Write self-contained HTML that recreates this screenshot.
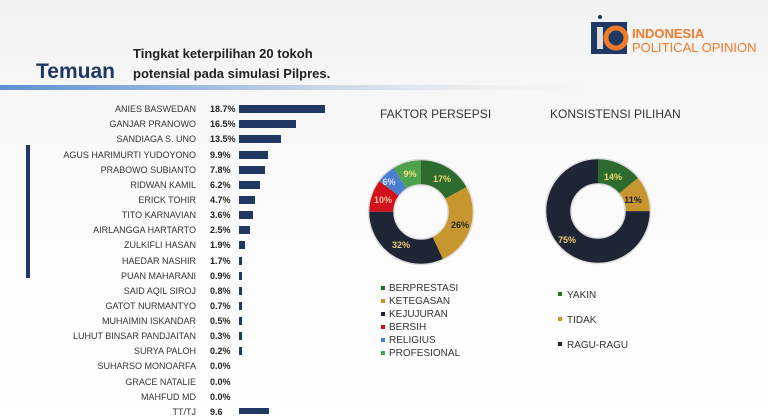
<!DOCTYPE html>
<html><head><meta charset="utf-8"><style>
html,body{margin:0;padding:0;}
body{width:768px;height:419px;overflow:hidden;background:linear-gradient(180deg,#f2f2f2 0%,#fafafa 40%,#fff 100%);font-family:"Liberation Sans",sans-serif;}
svg{display:block}
</style></head><body>
<svg width="768" height="419" viewBox="0 0 768 419" xmlns="http://www.w3.org/2000/svg" font-family="Liberation Sans, sans-serif">
<defs>
<linearGradient id="hl" x1="0" x2="1"><stop offset="0" stop-color="#5b8fd0"/><stop offset="0.45" stop-color="#b9cde6"/><stop offset="0.8" stop-color="#e8e8e8" stop-opacity="0.5"/><stop offset="1" stop-color="#f5f5f5" stop-opacity="0"/></linearGradient>
</defs>
<rect x="0" y="85" width="620" height="5" fill="url(#hl)"/>
<text x="36" y="78" font-size="21" font-weight="bold" fill="#1f3864">Temuan</text>
<text x="133" y="58" font-size="13" font-weight="bold" fill="#222">Tingkat keterpilihan 20 tokoh</text>
<text x="133" y="78" font-size="13" font-weight="bold" fill="#222">potensial pada simulasi Pilpres.</text>
<rect x="591" y="22" width="36" height="32" fill="#1f3864"/>
<circle cx="600" cy="17" r="2" fill="#1f3864"/>
<rect x="597" y="27" width="6" height="22" fill="#ddd"/>
<circle cx="616" cy="38" r="10" fill="none" stroke="#f07c2a" stroke-width="5"/>
<text x="632" y="38" font-size="13" font-weight="bold" fill="#f07c2a">INDONESIA</text>
<text x="632" y="52" font-size="13" fill="#f07c2a">POLITICAL OPINION</text>
<rect x="26" y="145" width="4" height="133" fill="#1f3864"/>
<g font-size="9" fill="#333" text-anchor="end">
<text x="196" y="112">ANIES BASWEDAN</text>
<text x="196" y="127">GANJAR PRANOWO</text>
<text x="196" y="142">SANDIAGA S. UNO</text>
<text x="196" y="158">AGUS HARIMURTI YUDOYONO</text>
<text x="196" y="173">PRABOWO SUBIANTO</text>
<text x="196" y="188">RIDWAN KAMIL</text>
<text x="196" y="203">ERICK TOHIR</text>
<text x="196" y="218">TITO KARNAVIAN</text>
<text x="196" y="233">AIRLANGGA HARTARTO</text>
<text x="196" y="248">ZULKIFLI HASAN</text>
<text x="196" y="264">HAEDAR NASHIR</text>
<text x="196" y="279">PUAN MAHARANI</text>
<text x="196" y="294">SAID AQIL SIROJ</text>
<text x="196" y="309">GATOT NURMANTYO</text>
<text x="196" y="324">MUHAIMIN ISKANDAR</text>
<text x="196" y="339">LUHUT BINSAR PANDJAITAN</text>
<text x="196" y="354">SURYA PALOH</text>
<text x="196" y="369">SUHARSO MONOARFA</text>
<text x="196" y="385">GRACE NATALIE</text>
<text x="196" y="400">MAHFUD MD</text>
<text x="196" y="415">TT/TJ</text>
</g>
<g font-size="9" font-weight="bold" fill="#222">
<text x="210" y="112">18.7%</text>
<text x="210" y="127">16.5%</text>
<text x="210" y="142">13.5%</text>
<text x="210" y="158">9.9%</text>
<text x="210" y="173">7.8%</text>
<text x="210" y="188">6.2%</text>
<text x="210" y="203">4.7%</text>
<text x="210" y="218">3.6%</text>
<text x="210" y="233">2.5%</text>
<text x="210" y="248">1.9%</text>
<text x="210" y="264">1.7%</text>
<text x="210" y="279">0.9%</text>
<text x="210" y="294">0.8%</text>
<text x="210" y="309">0.7%</text>
<text x="210" y="324">0.5%</text>
<text x="210" y="339">0.3%</text>
<text x="210" y="354">0.2%</text>
<text x="210" y="369">0.0%</text>
<text x="210" y="385">0.0%</text>
<text x="210" y="400">0.0%</text>
<text x="210" y="415">9.6</text>
</g>
<g fill="#1f3864">
<rect x="239" y="105" width="86" height="8"/>
<rect x="239" y="120" width="57" height="8"/>
<rect x="239" y="135" width="42" height="8"/>
<rect x="239" y="151" width="29" height="8"/>
<rect x="239" y="166" width="26" height="8"/>
<rect x="239" y="181" width="21" height="8"/>
<rect x="239" y="196" width="16" height="8"/>
<rect x="239" y="211" width="14" height="8"/>
<rect x="239" y="226" width="11" height="8"/>
<rect x="239" y="241" width="6" height="8"/>
<rect x="239" y="257" width="3" height="8"/>
<rect x="239" y="272" width="3" height="8"/>
<rect x="239" y="287" width="3" height="8"/>
<rect x="239" y="302" width="3" height="8"/>
<rect x="239" y="317" width="3" height="8"/>
<rect x="239" y="332" width="3" height="8"/>
<rect x="239" y="347" width="3" height="8"/>
<rect x="239" y="408" width="30" height="6"/>
</g>
<text x="380" y="118" font-size="12" fill="#333">FAKTOR PERSEPSI</text>
<text x="550" y="118" font-size="12" fill="#333">KONSISTENSI PILIHAN</text>
<g transform="translate(421,212) rotate(-90)" fill="none" stroke-width="25">
<circle r="39.5" stroke="#2e6b2e" stroke-dasharray="42.19 300" stroke-dashoffset="0"/>
<circle r="39.5" stroke="#c8962e" stroke-dasharray="64.53 300" stroke-dashoffset="-42.19"/>
<circle r="39.5" stroke="#1e2535" stroke-dasharray="79.42 300" stroke-dashoffset="-106.72"/>
<circle r="39.5" stroke="#d0101a" stroke-dasharray="24.82 300" stroke-dashoffset="-186.14"/>
<circle r="39.5" stroke="#4a7fd0" stroke-dasharray="14.89 300" stroke-dashoffset="-210.96"/>
<circle r="39.5" stroke="#4ea24e" stroke-dasharray="22.34 300" stroke-dashoffset="-225.85"/>
<circle r="52.5" stroke="#ddd" stroke-width="1.5"/>
<circle r="27" stroke="#ddd" stroke-width="1.5"/>
</g>
<g transform="translate(598,211) rotate(-90)" fill="none" stroke-width="25">
<circle r="39.5" stroke="#2e6b2e" stroke-dasharray="34.75 300" stroke-dashoffset="0"/>
<circle r="39.5" stroke="#c8962e" stroke-dasharray="27.30 300" stroke-dashoffset="-34.75"/>
<circle r="39.5" stroke="#1e2535" stroke-dasharray="186.14 300" stroke-dashoffset="-62.05"/>
<circle r="52.5" stroke="#ddd" stroke-width="1.5"/>
<circle r="27" stroke="#ddd" stroke-width="1.5"/>
</g>
<g font-size="9" font-weight="bold" text-anchor="middle">
<text x="442" y="182" fill="#e8d870">17%</text>
<text x="460" y="228" fill="#1e2535">26%</text>
<text x="401" y="248" fill="#e8c870">32%</text>
<text x="383" y="203" fill="#f3c0a0">10%</text>
<text x="389" y="185" fill="#dde">6%</text>
<text x="410" y="177" fill="#f0e080">9%</text>
<text x="613" y="180" fill="#e8d870">14%</text>
<text x="633" y="203" fill="#1e2535">11%</text>
<text x="567" y="243" fill="#e8c870">75%</text>
</g>
<g font-size="10" fill="#333">
<rect x="381" y="286" width="4" height="4" fill="#2e6b2e"/><text x="389" y="291">BERPRESTASI</text>
<rect x="381" y="299" width="4" height="4" fill="#c8962e"/><text x="389" y="304">KETEGASAN</text>
<rect x="381" y="312" width="4" height="4" fill="#1e2535"/><text x="389" y="317">KEJUJURAN</text>
<rect x="381" y="325" width="4" height="4" fill="#d0101a"/><text x="389" y="330">BERSIH</text>
<rect x="381" y="338" width="4" height="4" fill="#4a7fd0"/><text x="389" y="343">RELIGIUS</text>
<rect x="381" y="351" width="4" height="4" fill="#4ea24e"/><text x="389" y="356">PROFESIONAL</text>
<rect x="558" y="292" width="4" height="4" fill="#2e6b2e"/><text x="567" y="298">YAKIN</text>
<rect x="558" y="317" width="4" height="4" fill="#c8962e"/><text x="567" y="323">TIDAK</text>
<rect x="558" y="342" width="4" height="4" fill="#1e2535"/><text x="567" y="348">RAGU-RAGU</text>
</g>
</svg>
</body></html>
